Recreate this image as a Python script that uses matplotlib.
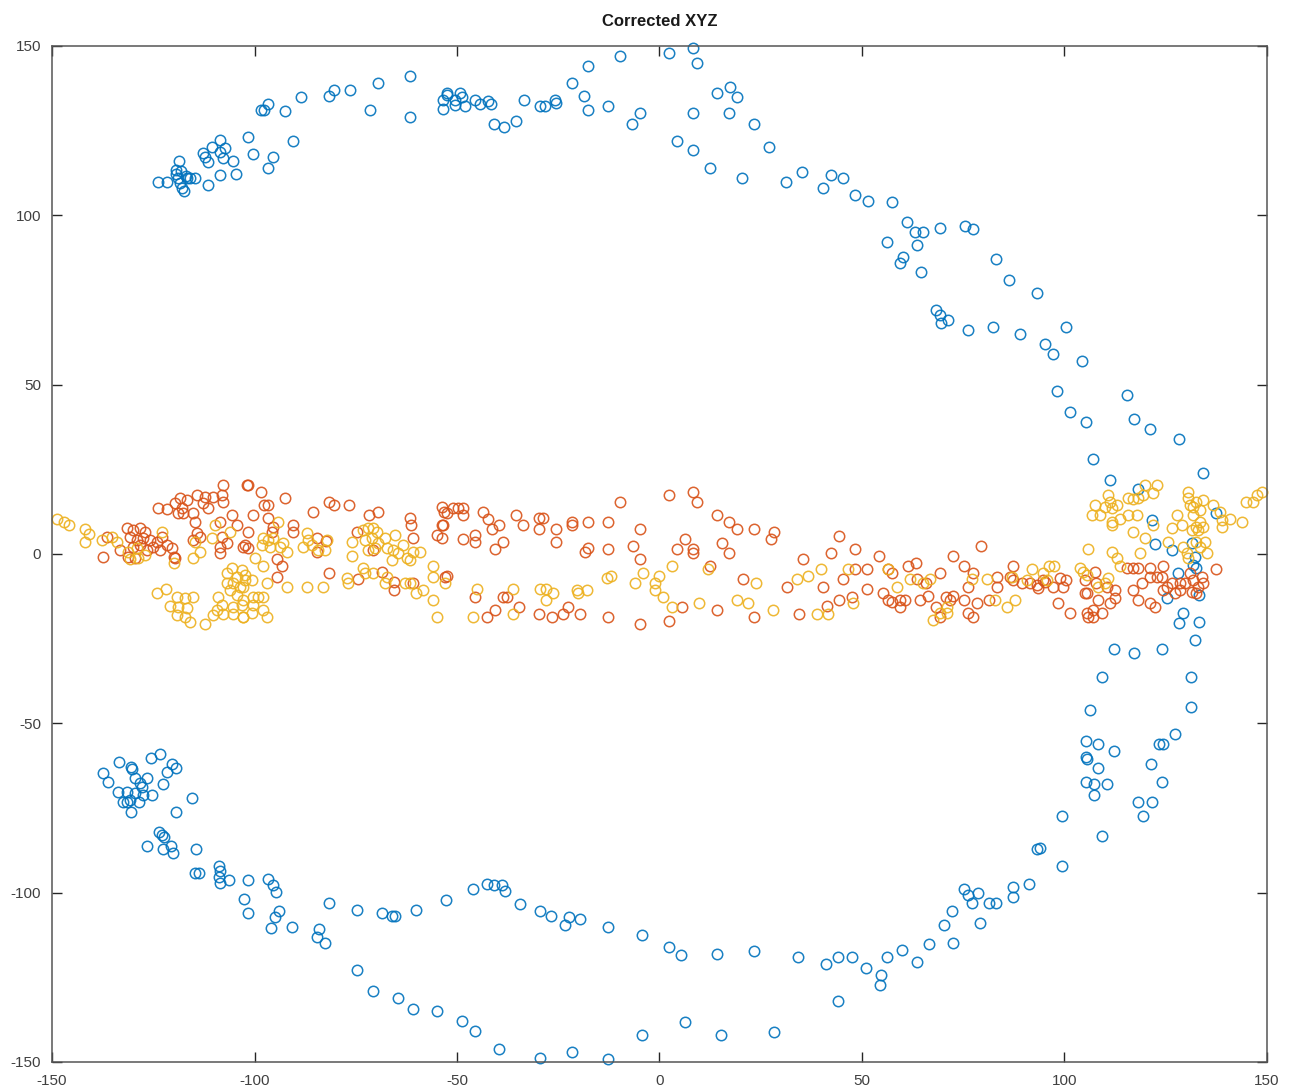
import numpy as np
import matplotlib
matplotlib.use("Agg")
import matplotlib.pyplot as plt

plt.rcParams['font.family'] = ['Liberation Sans', 'DejaVu Sans']
plt.rcParams['axes.unicode_minus'] = False

# --- data (x, y) ---
blue_top = [
    (-123.8, 109.9), (-121.5, 109.9), (-118.6, 116.1), (-119.4, 113.4), (-119.4, 112.2),
    (-118.9, 111.0), (-118.4, 109.5), (-117.9, 108.1), (-117.4, 107.2), (-116.9, 111.6),
    (-118.1, 113.1), (-114.7, 110.9), (-115.9, 111.0), (-116.7, 111.0), (-111.6, 108.9),
    (-112.6, 118.3), (-112.2, 117.3), (-111.4, 115.8), (-110.6, 120.3), (-108.5, 122.2),
    (-107.3, 119.8), (-108.5, 118.8), (-107.7, 116.8), (-105.4, 116.1), (-108.5, 111.9),
    (-104.6, 112.1), (-101.5, 123.2), (-100.4, 118.1), (-95.5, 117.1), (-96.6, 113.9),
    (-90.6, 122.0), (-98.4, 131.1), (-97.7, 131.1), (-96.7, 132.9), (-92.5, 130.8),
    (-88.5, 134.9), (-81.6, 135.2), (-80.4, 137.0), (-76.4, 137.0), (-71.5, 131.1),
    (-69.5, 139.1), (-61.6, 141.1), (-61.6, 129.0), (-53.5, 134.0), (-52.5, 135.5),
    (-52.5, 136.1), (-50.5, 134.0), (-49.3, 136.1), (-48.8, 134.9), (-53.5, 131.4),
    (-50.5, 132.6), (-48.0, 132.3), (-45.6, 134.0), (-44.3, 132.9), (-42.3, 133.7),
    (-41.6, 132.9), (-40.9, 127.0), (-38.4, 126.1), (-35.4, 127.8), (-33.5, 134.0),
    (-29.5, 132.3), (-28.3, 132.3), (-25.8, 134.0), (-25.6, 133.2), (-21.6, 139.1),
    (-18.6, 135.2), (-17.7, 144.1), (-17.7, 131.1), (-12.7, 132.3), (-9.8, 147.0),
    (-6.8, 127.0), (-4.8, 130.2), (2.3, 147.9), (4.3, 121.9), (8.3, 149.4),
    (8.3, 130.2), (8.3, 119.3), (9.3, 145.0), (12.5, 114.0), (14.2, 136.1),
    (17.4, 137.9), (17.2, 130.2), (19.1, 134.9), (20.4, 111.0), (23.3, 127.0),
    (27.0, 120.2), (31.2, 109.8), (35.2, 112.8), (40.4, 108.1), (42.3, 111.9),
    (45.3, 111.0), (48.3, 106.0), (51.5, 104.2), (57.4, 103.9), (56.2, 92.1),
    (61.1, 98.0), (60.1, 87.7), (59.4, 85.9), (63.1, 95.1), (65.1, 95.1),
    (63.6, 91.2), (64.6, 83.3), (69.3, 96.3), (75.4, 96.8), (77.4, 96.0),
    (68.3, 72.0), (69.3, 70.6), (69.5, 68.2), (71.2, 69.1), (76.2, 66.1),
    (82.3, 67.0), (83.1, 87.1), (86.3, 80.9), (89.0, 65.0), (93.2, 77.1),
    (95.2, 62.0), (97.1, 59.0), (100.4, 67.0), (98.2, 48.1), (101.4, 41.9),
    (104.3, 57.0), (105.3, 39.0), (107.0, 28.0), (111.2, 21.8), (115.4, 46.9),
    (117.2, 39.9), (121.1, 36.9), (128.3, 34.0), (134.2, 23.9),
]

blue_right = [
    (118.2, 19.1), (121.5, 10.0), (122.3, 3.0), (126.5, 1.2), (137.4, 12.0),
    (131.4, 3.2), (132.2, -0.8), (131.8, -3.2), (128.1, -5.7), (132.6, -4.2),
    (133.3, -12.1), (125.2, -13.1), (129.3, -17.5), (128.3, -20.3), (133.3, -20.0),
    (132.2, -25.4), (112.2, -28.1), (117.2, -29.1), (124.2, -28.1), (109.2, -36.2),
    (131.2, -36.2), (106.3, -46.1), (131.2, -45.1), (127.3, -53.1), (105.3, -55.1),
    (108.3, -56.1), (112.2, -58.1), (123.4, -56.1), (124.4, -56.1), (105.3, -60.0),
    (105.5, -60.5), (108.3, -63.1), (121.3, -62.1), (105.3, -67.2), (107.4, -68.0),
    (110.4, -68.0), (107.4, -71.2), (124.2, -67.2), (118.2, -73.1), (121.5, -73.1),
    (119.3, -77.3), (99.3, -77.3), (109.2, -83.3), (94.0, -86.8),
]

blue_left = [
    (-133.4, -61.3), (-137.5, -64.7), (-136.3, -67.2), (-130.6, -62.8), (-130.2, -63.5),
    (-125.6, -60.3), (-123.3, -59.0), (-120.4, -62.0), (-119.4, -63.3), (-121.5, -64.3),
    (-126.6, -66.2), (-129.5, -66.2), (-128.3, -67.7), (-127.8, -68.8), (-122.5, -68.0),
    (-133.6, -70.2), (-131.6, -70.2), (-129.5, -70.7), (-127.5, -71.2), (-125.4, -71.2),
    (-132.4, -73.1), (-131.6, -73.1), (-130.7, -72.6), (-128.4, -73.1), (-130.5, -76.1),
    (-115.5, -72.1), (-119.5, -76.1), (-123.5, -82.0), (-122.9, -83.0), (-122.3, -83.5),
    (-126.6, -86.2), (-122.5, -87.2), (-120.7, -86.2), (-120.2, -88.4), (-114.4, -87.2),
]

blue_bottom = [
    (-114.7, -94.2), (-113.7, -94.2), (-108.8, -95.4), (-108.5, -97.1), (-106.3, -96.3),
    (-108.8, -92.1), (-108.5, -93.6), (-102.6, -101.9), (-101.6, -96.3), (-101.6, -106.0),
    (-96.7, -96.0), (-95.4, -97.7), (-94.7, -99.8), (-93.9, -105.4), (-94.9, -107.2),
    (-95.9, -110.4), (-90.7, -110.1), (-84.1, -110.7), (-84.6, -113.1), (-82.6, -114.9),
    (-81.6, -103.0), (-74.7, -105.1), (-74.7, -122.8), (-70.7, -129.0), (-68.5, -106.0),
    (-66.0, -106.9), (-65.3, -106.9), (-64.6, -131.1), (-60.9, -134.3), (-60.2, -105.1),
    (-54.9, -134.9), (-52.7, -102.2), (-48.8, -137.9), (-45.6, -140.8), (-46.1, -98.9),
    (-42.6, -97.4), (-40.9, -97.7), (-38.9, -97.7), (-38.1, -99.5), (-39.6, -146.1),
    (-34.4, -103.3), (-29.5, -105.4), (-29.5, -148.8), (-26.8, -106.9), (-23.3, -109.5),
    (-22.3, -107.2), (-21.6, -147.0), (-19.6, -107.8), (-12.7, -110.1), (-12.7, -149.1),
    (-4.3, -112.5), (-4.3, -142.0), (2.3, -116.0), (5.3, -118.4), (6.3, -138.2),
    (14.2, -118.1), (15.2, -142.0), (23.3, -117.2), (28.3, -141.1), (34.2, -119.0),
    (41.1, -121.0), (44.1, -119.0), (44.1, -132.0), (47.5, -119.0), (51.0, -122.2),
    (54.4, -127.3), (54.7, -124.3), (56.2, -119.0), (59.9, -116.9), (63.6, -120.5),
    (66.5, -115.1), (70.2, -109.5), (72.5, -114.9), (72.2, -105.4), (75.2, -98.9),
    (76.2, -100.7), (77.2, -103.0), (78.6, -100.1), (79.1, -109.0), (81.3, -103.0),
    (83.1, -103.0), (87.3, -98.3), (87.3, -101.3), (91.2, -97.4), (93.2, -87.1),
    (99.4, -92.1),
]

orange_left = [
    (-137.3, -0.8), (-136.5, 5.1), (-133.2, 1.2), (-131.6, 7.6), (-129.9, 7.1),
    (-128.3, 7.6), (-127.0, 6.6), (-130.7, 5.1), (-129.1, 4.1), (-127.5, 4.6),
    (-125.8, 4.1), (-124.1, 3.6), (-122.9, 5.1), (-129.9, 2.2), (-128.3, 2.7),
    (-126.6, 1.2), (-125.0, 2.2), (-123.3, 1.2), (-121.7, 2.7), (-120.4, 1.7),
    (-120.0, -0.8), (-119.6, -1.3), (-131.2, -0.8), (-129.5, -1.3), (-123.8, 13.5),
    (-121.7, 13.2), (-119.6, 15.0), (-118.4, 16.4), (-116.7, 15.9), (-118.8, 12.0),
    (-117.6, 12.0), (-118.0, 13.5), (-115.1, 12.0), (-114.7, 9.5), (-114.3, 17.4),
    (-112.2, 16.9), (-112.6, 15.0), (-111.4, 13.5), (-110.2, 16.9), (-108.1, 17.4),
    (-107.9, 15.4), (-107.7, 20.4), (-101.9, 20.4), (-113.5, 5.1), (-115.1, 4.1),
    (-114.3, 6.1), (-108.5, 9.5), (-105.6, 11.5), (-104.4, 8.6), (-108.1, 5.1),
    (-106.9, 3.2), (-108.5, 2.2), (-108.5, 0.2), (-102.8, 2.2),
    (-101.5, 20.4), (-98.5, 18.4), (-97.7, 14.5), (-96.6, 14.5), (-92.5, 16.4),
    (-100.4, 11.5), (-96.6, 10.5), (-101.5, 6.6), (-95.4, 8.1), (-95.8, 6.6),
    (-102.3, 2.7), (-101.5, 1.7), (-90.6, 8.6), (-90.6, 6.6), (-85.5, 12.5),
    (-81.5, 15.4), (-80.4, 14.5), (-76.6, 14.5), (-84.5, 4.6), (-82.3, 3.9),
    (-84.5, 0.7), (-94.5, -1.6), (-93.3, -3.7), (-94.5, -6.7), (-81.5, -5.5),
    (-74.6, 6.6), (-71.7, 11.5), (-69.4, 12.5), (-61.6, 10.5), (-61.4, 8.6),
    (-60.8, 4.6), (-70.7, 1.2), (-53.8, 14.0), (-53.2, 12.5), (-53.8, 8.6),
    (-55.0, 5.6), (-53.8, 4.6), (-74.4, -7.5), (-68.6, -5.2), (-65.6, -8.2),
    (-65.6, -10.6), (-60.8, -8.7), (-53.0, -6.7),
]

orange_mid = [
    (-52.5, 12.0), (-50.9, 13.5), (-49.7, 13.5), (-48.4, 13.5), (-48.4, 11.5),
    (-53.4, 8.6), (-48.6, 4.3), (-45.6, 5.6), (-45.6, 3.6), (-43.7, 12.5),
    (-42.3, 10.2), (-41.4, 7.3), (-39.6, 8.6), (-38.6, 3.6), (-40.6, 1.4),
    (-35.4, 11.5), (-33.6, 8.6), (-29.7, 10.5), (-28.7, 10.5), (-29.7, 7.3),
    (-25.6, 7.3), (-25.6, 3.6), (-21.7, 9.5), (-21.7, 8.6), (-17.6, 9.5),
    (-12.6, 9.5), (-9.8, 15.4), (-4.8, 7.3), (-18.4, 0.7), (-17.6, 1.7),
    (-12.6, 1.4), (-6.6, 2.4), (-4.8, -1.6), (-52.5, -6.5), (-45.6, -12.6),
    (-38.6, -12.6), (-37.7, -12.6), (-40.6, -16.5), (-42.7, -18.5), (-34.6, -15.6),
    (-29.7, -17.7), (-26.6, -18.5), (-23.8, -17.7), (-22.5, -15.6), (-19.6, -17.7),
    (-12.6, -18.5), (-4.8, -20.7),
    (2.4, 17.4), (8.3, 18.4), (9.3, 15.3), (14.3, 11.5), (17.2, 9.5),
    (19.2, 7.3), (23.3, 7.3), (28.3, 6.6), (27.5, 4.3), (44.4, 5.3),
    (6.3, 4.3), (4.4, 1.4), (8.3, 1.4), (8.3, 0.4), (15.4, 3.3),
    (17.2, 0.4), (12.5, -3.5), (20.5, -7.5), (31.4, -9.7), (35.4, -1.6),
    (42.3, 0.4), (45.2, -7.5), (40.3, -9.7), (44.4, -13.6), (41.4, -15.4),
    (5.5, -15.6), (14.3, -16.5), (23.3, -18.5), (34.5, -17.7), (2.4, -19.7),
]

orange_right = [
    (48.3, 1.4), (54.3, -0.6), (48.3, -4.5), (51.3, -4.5), (56.5, -4.5),
    (57.3, -5.7), (61.4, -3.5), (63.3, -2.6), (72.4, -0.6), (79.3, 2.4),
    (69.3, -5.5), (75.2, -3.5), (77.3, -5.5), (87.2, -3.5), (51.3, -10.4),
    (47.5, -12.6), (55.1, -11.6), (56.5, -13.6), (57.3, -14.1), (59.4, -13.6),
    (60.6, -13.6), (59.4, -15.6), (63.5, -7.5), (64.3, -13.6), (65.8, -8.7),
    (66.4, -12.4), (68.4, -15.6), (69.3, -18.5), (70.7, -12.8), (71.7, -13.6),
    (72.5, -12.4), (75.2, -13.6), (76.2, -9.7), (78.3, -14.6), (76.2, -17.5),
    (77.5, -18.5), (81.4, -13.6), (83.3, -6.7), (83.3, -9.7), (86.5, -6.7),
    (87.4, -7.7), (89.4, -8.7), (91.5, -8.7), (93.1, -9.2), (94.8, -7.7),
    (93.5, -10.1), (95.2, -8.2), (97.2, -9.7), (98.9, -7.2), (99.7, -9.7),
    (100.5, -7.7), (98.5, -14.6), (101.4, -17.5), (105.1, -7.7), (105.1, -11.6),
    (105.5, -11.6), (105.5, -17.5), (105.9, -18.5), (107.1, -16.5), (107.1, -18.5),
    (109.2, -17.5), (108.3, -13.6), (107.5, -5.2), (107.9, -8.7), (110.4, -9.7),
    (111.2, -14.6), (112.5, -13.1), (112.5, -10.6), (115.4, -4.2), (117.0, -4.2),
    (118.2, -4.2), (117.0, -10.6), (118.2, -13.6), (119.1, -8.7), (121.1, -4.2),
    (121.1, -6.7), (122.8, -6.7), (121.1, -14.6), (122.3, -15.6), (124.4, -3.7),
    (124.0, -6.7), (125.2, -9.7), (124.4, -10.6), (126.5, -8.7), (127.3, -11.6),
    (128.5, -8.7), (128.5, -10.6), (129.8, -8.7), (131.0, -5.7), (131.8, -7.7),
    (133.0, -9.7), (132.6, -11.6), (134.3, -8.7), (133.9, -6.7), (131.4, -11.1),
    (137.4, -4.5),
]

yellow_left = [
    (-148.8, 10.2), (-147.0, 9.5), (-145.8, 8.6), (-141.9, 7.3), (-140.8, 5.9),
    (-141.9, 3.6), (-137.7, 4.1), (-135.3, 5.1), (-134.0, 3.6), (-131.2, 0.7),
    (-129.1, 1.7), (-130.7, -1.6), (-128.7, -1.3), (-127.0, -0.3), (-122.9, 6.6),
    (-120.0, -2.7), (-115.1, -1.3), (-113.5, 0.7), (-114.7, 3.6), (-109.8, 8.6),
    (-110.6, 4.6), (-106.1, 6.6), (-124.1, -11.6), (-121.9, -10.4), (-119.2, -12.6),
    (-117.2, -13.1), (-115.1, -12.6), (-120.9, -15.4), (-118.8, -15.6), (-116.7, -16.0),
    (-119.2, -18.0), (-117.2, -18.5), (-115.9, -20.0), (-112.2, -20.7), (-110.2, -18.0),
    (-109.3, -16.5), (-107.9, -17.7), (-108.9, -12.6), (-106.9, -5.7), (-105.6, -4.2),
    (-104.4, -6.7), (-103.2, -4.7), (-106.9, -8.7), (-105.2, -8.7), (-103.6, -9.7),
    (-102.3, -7.7), (-106.1, -10.6), (-104.4, -12.1), (-108.1, -15.1), (-105.2, -15.6),
    (-103.2, -15.1), (-105.2, -17.7), (-102.9, -18.5),
    (-94.1, 9.5), (-97.8, 4.6), (-96.6, 4.1), (-95.4, 4.6), (-98.2, 2.7),
    (-96.2, 2.2), (-93.7, 2.2), (-92.9, 3.2), (-92.0, 0.7), (-87.1, 6.1),
    (-86.7, 4.1), (-88.0, 2.2), (-85.9, 2.7), (-84.2, 1.2), (-82.2, 4.1),
    (-82.6, 1.2), (-99.9, -1.3), (-97.8, -3.7), (-102.3, -6.2), (-100.7, -7.7),
    (-102.8, -9.7), (-97.0, -8.7), (-92.0, -9.7), (-87.1, -9.7), (-83.0, -9.7),
    (-102.8, -13.6), (-100.3, -12.6), (-99.1, -12.6), (-97.8, -12.6), (-100.3, -15.1),
    (-97.8, -16.5), (-97.0, -18.5), (-102.8, -18.5), (-100.7, -17.5),
]

yellow_mid = [
    (-76.0, 3.6), (-76.0, -0.6), (-73.1, 7.1), (-71.9, 7.6), (-70.7, 7.6),
    (-69.8, 6.6), (-72.7, 4.1), (-71.1, 4.6), (-71.9, 1.2), (-70.2, 1.7),
    (-69.4, 3.2), (-67.8, 4.6), (-65.3, 5.6), (-67.4, 1.7), (-65.7, 1.2),
    (-63.3, 2.7), (-64.5, 0.2), (-62.4, -1.3), (-60.8, 0.7), (-59.1, 0.7),
    (-61.6, -1.8), (-66.1, -1.8), (-73.1, -4.2), (-72.7, -5.7), (-70.7, -5.7),
    (-77.2, -7.2), (-76.8, -8.7), (-67.4, -6.7), (-67.8, -8.7), (-62.8, -8.7),
    (-61.6, -8.7), (-58.3, -10.6), (-60.0, -11.6), (-56.0, -3.7), (-56.0, -6.7),
    (-53.0, -8.7), (-56.0, -13.6), (-55.0, -18.5),
    (-45.1, -10.4), (-36.1, -10.4), (-46.0, -18.5), (-36.1, -17.7), (-29.5, -10.4),
    (-28.0, -10.4), (-28.0, -13.6), (-26.2, -11.6), (-20.4, -10.6), (-20.0, -11.6),
    (-18.0, -10.6), (-13.0, -7.2), (-12.0, -6.5), (-6.0, -8.7), (-4.1, -5.5),
    (0.0, -6.5), (-1.1, -8.7), (-1.1, -10.6), (0.9, -12.6), (3.0, -3.7),
    (12.0, -4.5), (3.0, -15.6), (9.8, -14.6), (19.1, -13.6), (21.9, -14.6),
    (23.8, -8.7), (28.0, -16.5), (33.9, -7.5), (36.7, -6.5), (39.8, -4.5),
    (38.8, -17.7), (41.7, -17.7), (46.6, -4.5),
]

yellow_right = [
    (47.9, -14.6), (56.5, -4.5), (58.7, -9.7), (61.9, -7.5), (65.1, -8.7),
    (66.8, -7.5), (67.6, -19.5), (69.3, -17.5), (70.9, -17.5), (70.9, -15.6),
    (77.1, -7.5), (80.8, -7.5), (82.8, -13.6), (85.7, -15.6), (87.8, -13.6),
    (87.0, -6.7), (91.9, -4.5), (90.7, -7.7), (94.8, -5.7), (95.6, -7.7),
    (96.2, -3.7), (97.4, -3.7), (103.8, -4.2), (104.6, -5.2), (105.5, -6.2),
    (108.3, -9.7), (110.0, -8.7), (110.8, -7.2),
    (105.9, 1.4), (106.7, 11.5), (107.5, 14.5), (108.8, 11.5), (110.0, 14.0),
    (110.8, 17.4), (111.2, 15.4), (111.7, 13.5), (112.9, 14.5), (111.7, 9.5),
    (111.7, 8.6), (113.7, 10.2), (115.8, 16.4), (117.0, 16.2), (118.2, 16.4),
    (119.5, 17.4), (119.9, 20.4), (121.9, 17.9), (122.8, 20.4), (115.8, 11.5),
    (117.8, 11.5), (116.8, 6.6), (119.9, 4.6), (118.6, 0.4), (121.9, 8.6),
    (111.7, 0.7), (112.9, -1.3), (113.7, -3.5), (125.6, 3.6), (126.5, 7.6),
    (127.7, 11.5), (128.9, 8.6), (130.6, 18.4), (130.6, 16.4), (131.0, 14.5),
    (131.8, 14.0), (132.6, 15.4), (133.5, 13.0), (134.3, 15.9), (131.8, 11.5),
    (133.5, 9.5), (132.6, 8.1), (134.3, 8.1), (131.4, 7.1), (133.0, 7.1),
    (134.7, 3.6), (132.6, 3.6), (133.5, 2.2), (136.7, 14.5), (138.4, 12.5),
    (138.8, 10.0), (138.8, 8.1), (140.9, 10.2), (143.8, 9.5), (144.8, 15.4),
    (146.6, 15.4), (147.5, 17.4), (148.7, 18.4), (129.3, 2.2), (130.2, 0.2),
    (130.6, -1.3), (135.1, 0.2),
]

xticks = [-150, -100, -50, 0, 50, 100, 150]
yticks = [-150, -100, -50, 0, 50, 100, 150]

blue = np.array(blue_top + blue_right + blue_left + blue_bottom)
orange = np.array(orange_left + orange_mid + orange_right)
yellow = np.array(yellow_left + yellow_mid + yellow_right)

fig = plt.figure(figsize=(12.94, 10.91), dpi=100)
ax = fig.add_axes([0.0402, 0.0266, 0.9389, 0.9313])

style = dict(linestyle='none', marker='o', markersize=7.5, markerfacecolor='none',
             markeredgewidth=1.1, clip_on=False, alpha=0.9)
ax.plot(blue[:, 0], blue[:, 1], markeredgecolor='#0072BD', **style)
ax.plot(orange[:, 0], orange[:, 1], markeredgecolor='#D95319', **style)
ax.plot(yellow[:, 0], yellow[:, 1], markeredgecolor='#EDB120', **style)

ax.set_xlim(-150, 150)
ax.set_ylim(-150, 150)
ax.set_xticks(xticks)
ax.set_yticks(yticks)
ax.tick_params(direction='in', top=True, right=True, length=7, width=1.0,
               labelsize=11, colors='#262626', labelcolor='#404040')
ax.tick_params(axis='x', pad=9)
ax.tick_params(axis='y', pad=8)
for s in ax.spines.values():
    s.set_color('#555555')
    s.set_linewidth(1.1)

ax.set_title('Corrected XYZ', fontsize=12, fontweight='bold', color='#1a1a1a', pad=14)

plt.savefig('out.png', dpi=100)
